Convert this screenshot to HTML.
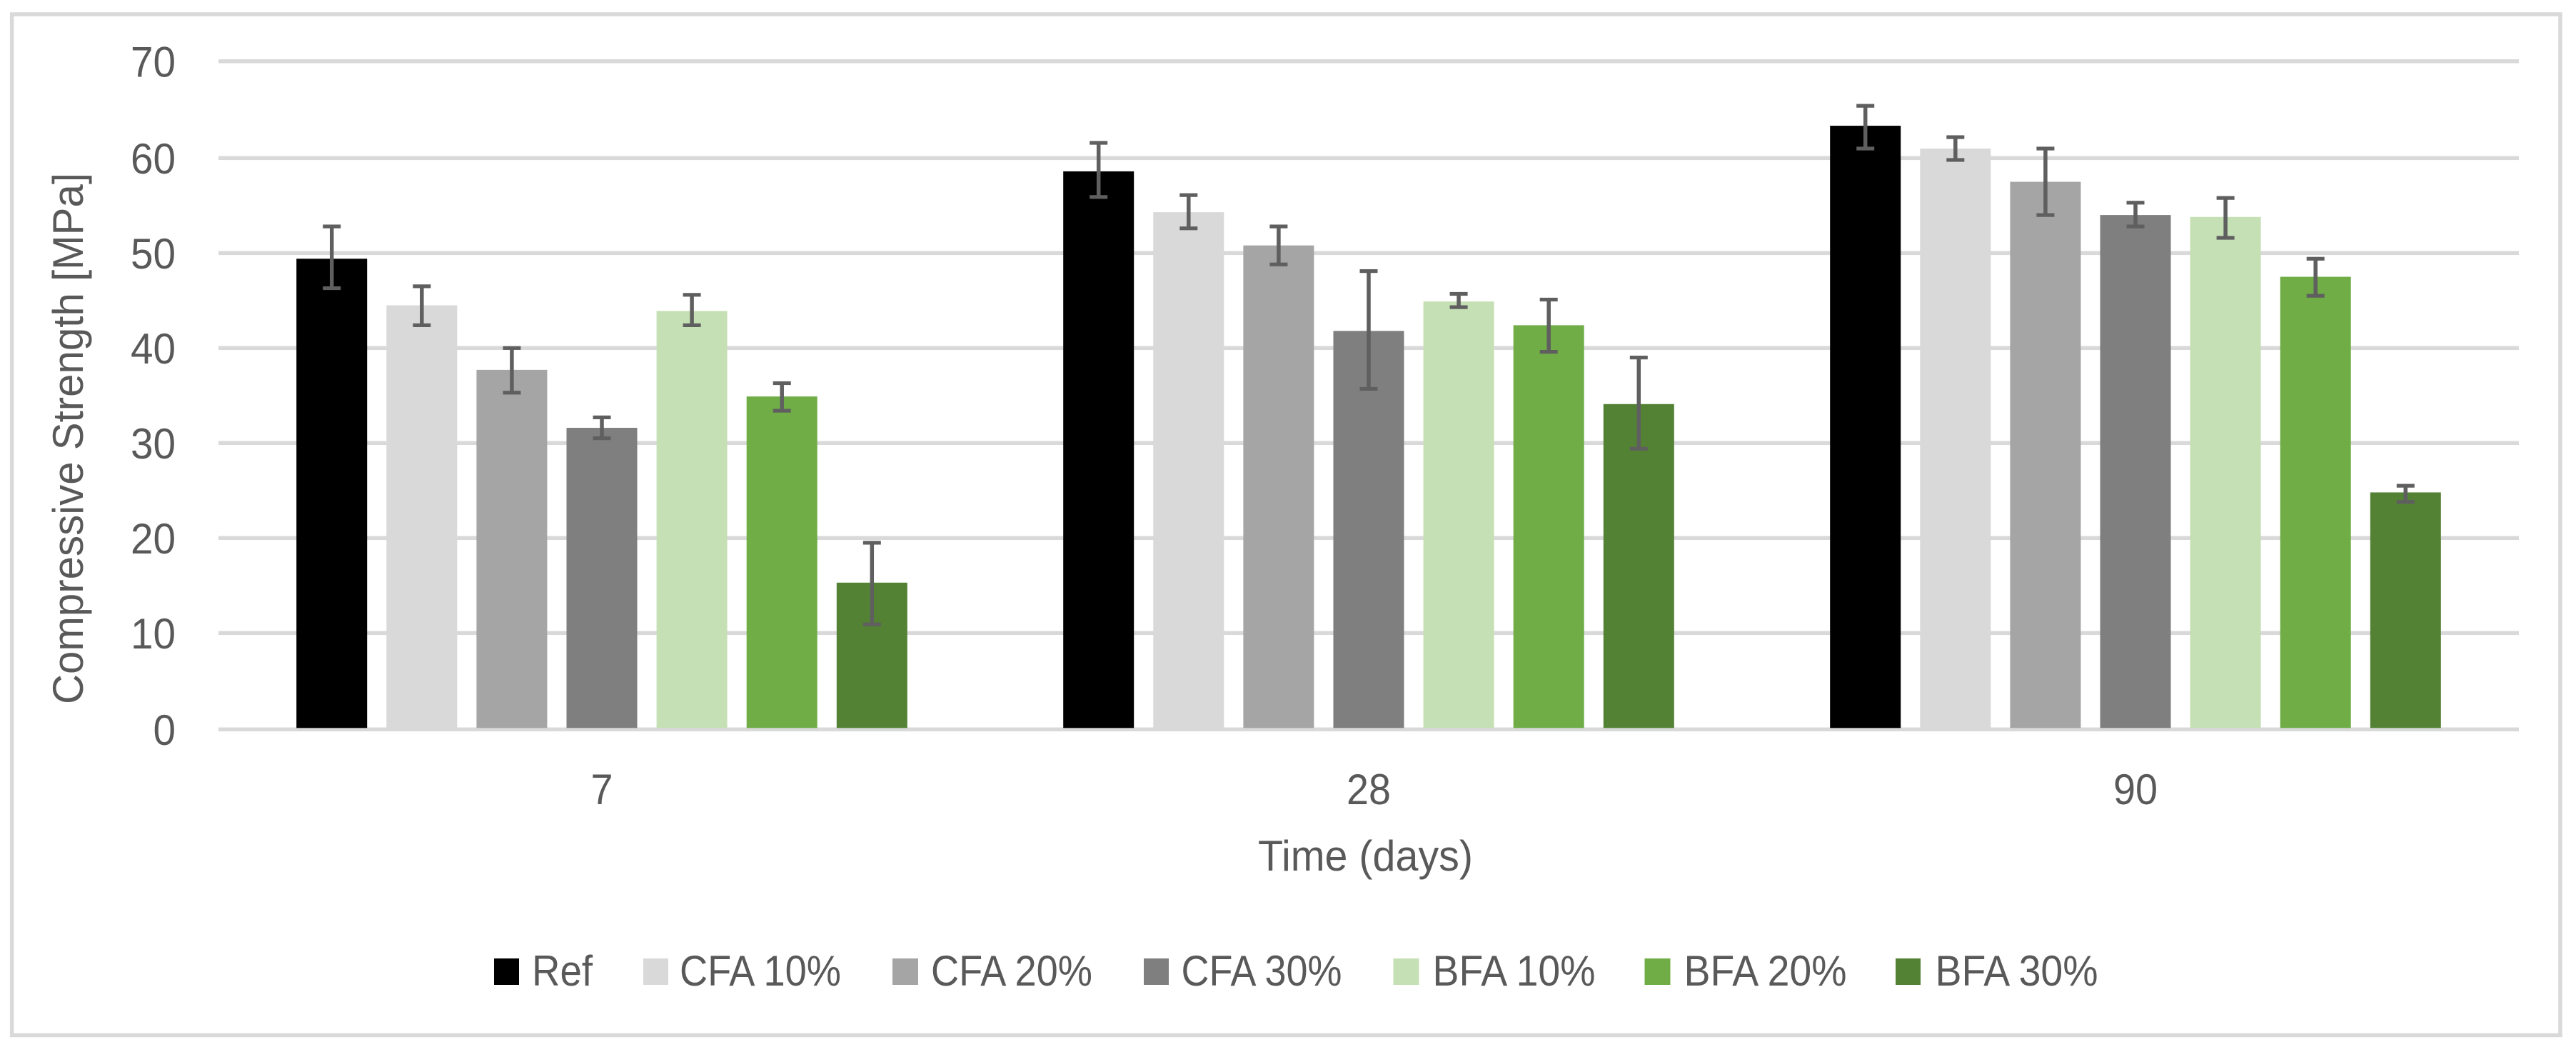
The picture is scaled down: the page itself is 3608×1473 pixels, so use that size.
<!DOCTYPE html>
<html lang="en">
<head>
<meta charset="utf-8">
<title>Compressive Strength vs Time</title>
<style>
  html, body { margin: 0; padding: 0; background: #ffffff; }
  svg { display: block; }
  text { font-family: "Liberation Sans", sans-serif; fill: #595959; font-size: 60px; }
</style>
</head>
<body>
<svg id="chart" xmlns="http://www.w3.org/2000/svg" width="3608" height="1473" viewBox="0 0 3608 1473">
  <rect x="0" y="0" width="3608" height="1473" fill="#ffffff"/>
  <rect x="16.7" y="20" width="3569.3" height="1429.5" fill="#ffffff" stroke="#d9d9d9" stroke-width="5.5"/>
  <g id="grid"></g>
  <g id="bars"></g>
  <g id="errors"></g>
  <g id="yticks"></g>
  <g id="xticks"></g>
  <text transform="translate(116 614) rotate(-90)" text-anchor="middle" textLength="744" lengthAdjust="spacingAndGlyphs">Compressive Strength [MPa]</text>
  <text x="1912.5" y="1219" text-anchor="middle" textLength="301" lengthAdjust="spacingAndGlyphs">Time (days)</text>
  <g>
    <g>
      <rect x="692" y="1342" width="35" height="37" fill="#000000"/>
      <text x="745" y="1380" textLength="85" lengthAdjust="spacingAndGlyphs">Ref</text>
    </g>
    <g>
      <rect x="901" y="1342" width="35" height="37" fill="#d9d9d9"/>
      <text x="952" y="1380" textLength="226" lengthAdjust="spacingAndGlyphs">CFA 10%</text>
    </g>
    <g>
      <rect x="1250" y="1342" width="36" height="37" fill="#a5a5a5"/>
      <text x="1304" y="1380" textLength="226" lengthAdjust="spacingAndGlyphs">CFA 20%</text>
    </g>
    <g>
      <rect x="1602" y="1342" width="35" height="37" fill="#7f7f7f"/>
      <text x="1654.5" y="1380" textLength="225" lengthAdjust="spacingAndGlyphs">CFA 30%</text>
    </g>
    <g>
      <rect x="1951.5" y="1342" width="36" height="37" fill="#c5e0b4"/>
      <text x="2006.5" y="1380" textLength="228" lengthAdjust="spacingAndGlyphs">BFA 10%</text>
    </g>
    <g>
      <rect x="2303.5" y="1342" width="36" height="37" fill="#70ad47"/>
      <text x="2358.5" y="1380" textLength="228" lengthAdjust="spacingAndGlyphs">BFA 20%</text>
    </g>
    <g>
      <rect x="2655" y="1342" width="35" height="37" fill="#548235"/>
      <text x="2710.5" y="1380" textLength="228" lengthAdjust="spacingAndGlyphs">BFA 30%</text>
    </g>
  </g>
</svg>
<script>
const categories = ['7', '28', '90'];
const seriesNames = ['Ref', 'CFA 10%', 'CFA 20%', 'CFA 30%', 'BFA 10%', 'BFA 20%', 'BFA 30%'];
const seriesColors = ['#000000', '#d9d9d9', '#a5a5a5', '#7f7f7f', '#c5e0b4', '#70ad47', '#548235'];
const yTicks = [0, 10, 20, 30, 40, 50, 60, 70];

const strengthDay7  = [49.4, 44.5, 37.7, 31.6, 43.9, 34.9, 15.3];
const strengthDay28 = [58.6, 54.3, 50.8, 41.8, 44.9, 42.4, 34.1];
const strengthDay90 = [63.4, 61.0, 57.5, 54.0, 53.8, 47.5, 24.8];

const upperDay7  = [52.8, 46.5, 40.0, 32.7, 45.6, 36.3, 19.5];
const upperDay28 = [61.6, 56.1, 52.8, 48.1, 45.7, 45.1, 39.0];
const upperDay90 = [65.5, 62.2, 61.0, 55.3, 55.8, 49.4, 25.5];

const lowerDay7  = [46.3, 42.4, 35.3, 30.5, 42.4, 33.4, 10.9];
const lowerDay28 = [55.9, 52.6, 48.8, 35.7, 44.3, 39.6, 29.4];
const lowerDay90 = [61.0, 59.8, 54.0, 52.8, 51.6, 45.5, 23.8];

const strengthByCategory = [strengthDay7, strengthDay28, strengthDay90];
const upperByCategory = [upperDay7, upperDay28, upperDay90];
const lowerByCategory = [lowerDay7, lowerDay28, lowerDay90];

const NS = 'http://www.w3.org/2000/svg';
const plotLeft = 306;
const plotRight = 3528;
const zeroY = 1019.3;
const pxPerUnit = 13.3;
const barWidth = 99;
const barPitch = 126.1;
const capWidth = 25;
const errorColor = '#5f5f5f';

function yScale(v) { return zeroY - v * pxPerUnit; }
function gridY(t) {
  if (t === 0) return yScale(t) + 2;
  if (t === 70) return yScale(t) - 2.5;
  return yScale(t);
}
function categoryCenter(i) {
  const band = (plotRight - plotLeft) / categories.length;
  return plotLeft + band * (i + 0.5);
}
function barCenter(c, s) {
  return categoryCenter(c) + (s - (seriesNames.length - 1) / 2) * barPitch;
}
function make(tag, attrs) {
  const el = document.createElementNS(NS, tag);
  for (const k in attrs) el.setAttribute(k, attrs[k]);
  return el;
}

const gridGroup = document.getElementById('grid');
const barGroup = document.getElementById('bars');
const errorGroup = document.getElementById('errors');
const yTickGroup = document.getElementById('yticks');
const xTickGroup = document.getElementById('xticks');

yTicks.forEach(function (t) {
  const line = make('rect', { x: plotLeft, y: gridY(t) - 2.75, width: plotRight - plotLeft, height: 5.5, fill: '#d9d9d9' });
  
  
  gridGroup.appendChild(line);

  const label = make('text', { x: 246, y: gridY(t) + 21.5, 'text-anchor': 'end', textLength: 31.5 * String(t).length, lengthAdjust: 'spacingAndGlyphs' });
  label.textContent = String(t);
  
  
  yTickGroup.appendChild(label);
});

categories.forEach(function (cat, c) {
  const catLabel = make('text', { x: categoryCenter(c), y: 1126, 'text-anchor': 'middle', textLength: 31 * cat.length, lengthAdjust: 'spacingAndGlyphs' });
  catLabel.textContent = cat;
  
  
  xTickGroup.appendChild(catLabel);

  seriesNames.forEach(function (name, s) {
    const slug = name.toLowerCase().replace(/[^a-z0-9]+/g, '-').replace(/-$/, '');
    const cx = barCenter(c, s);
    const top = yScale(strengthByCategory[c][s]);
    const bar = make('rect', { x: cx - barWidth / 2, y: top, width: barWidth, height: zeroY - top, fill: seriesColors[s] });
    
    
    barGroup.appendChild(bar);

    const hi = yScale(upperByCategory[c][s]);
    const lo = yScale(lowerByCategory[c][s]);
    const err = make('g', {});
    
    
    err.appendChild(make('rect', { x: cx - 2.75, y: hi, width: 5.5, height: lo - hi, fill: errorColor }));
    err.appendChild(make('rect', { x: cx - capWidth / 2, y: hi - 2.6, width: capWidth, height: 5.2, fill: errorColor }));
    err.appendChild(make('rect', { x: cx - capWidth / 2, y: lo - 2.6, width: capWidth, height: 5.2, fill: errorColor }));
    errorGroup.appendChild(err);
  });
});
</script>
</body>
</html>
